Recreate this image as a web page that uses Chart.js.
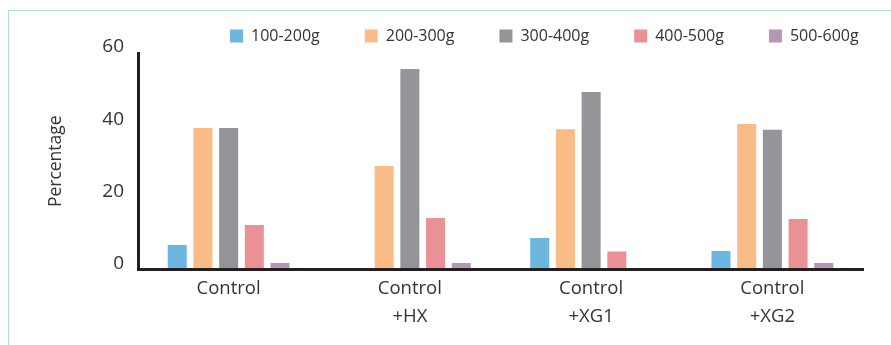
<!DOCTYPE html>
<html>
<head>
<meta charset="utf-8">
<script src="https://cdn.jsdelivr.net/npm/chart.js@4/dist/chart.umd.min.js"></script>
<style>
  html, body { margin: 0; padding: 0; background: #ffffff; }
  body { width: 891px; height: 345px; position: relative; overflow: hidden; }
  #frame { position: absolute; left: 8px; top: 10px; width: 900px; height: 400px;
           border-left: 1.5px solid #b2dcd9; border-top: 1.5px solid #b2dcd9; }
  #wrap { position: absolute; left: 0; top: 0; width: 891px; height: 345px; }
</style>
</head>
<body>
<div id="frame"></div>
<div id="wrap"><canvas id="c" width="891" height="345"></canvas></div>
<script>
const categories = [["Control"], ["Control", "+HX"], ["Control", "+XG1"], ["Control", "+XG2"]];
const seriesNames = ["100-200g", "200-300g", "300-400g", "400-500g", "500-600g"];
const s100_200 = [6.8, 0, 8.7, 5.1];
const s200_300 = [39.2, 28.7, 38.9, 40.3];
const s300_400 = [39.2, 55.6, 49.2, 38.7];
const s400_500 = [12.3, 14.3, 5.0, 14.0];
const s500_600 = [1.8, 1.8, 0, 1.8];
const yTicks = [0, 20, 40, 60];
const yTitle = "Percentage";

const colors = ["#6cb6df", "#f9bc86", "#949598", "#e99195", "#b497b7"];
const seriesValues = [s100_200, s200_300, s300_400, s400_500, s500_600];

const FONT = "'Open Sans', 'Noto Sans', sans-serif";
const TEXT = "#333333";
const AXIS = "#231f20";

const legendShift = {
  id: 'legendShift',
  afterLayout(chart) {
    const lg = chart.legend;
    if (!lg) return;
    const pad = lg.options.labels.padding;
    lg.left = 230 - pad;
    lg.right = lg.left + 1200;
    lg.top = 28 - pad;
  }
};

new Chart(document.getElementById('c'), {
  type: 'bar',
  data: {
    labels: categories,
    datasets: seriesNames.map((n, i) => ({
      label: n,
      data: seriesValues[i],
      backgroundColor: colors[i],
      borderWidth: 0,
      categoryPercentage: 0.709,
      barPercentage: 0.74
    }))
  },
  options: {
    responsive: false,
    animation: false,
    devicePixelRatio: 1,
    layout: { padding: { left: 0, right: 28, top: 0, bottom: 0 } },
    plugins: {
      tooltip: { enabled: false },
      legend: {
        display: true,
        position: 'top',
        align: 'start',
        maxHeight: 53,
        labels: {
          boxWidth: 13,
          boxHeight: 13,
          padding: 45,
          color: TEXT,
          font: { family: FONT, size: 16 }
        }
      }
    },
    scales: {
      x: {
        grid: { display: false, drawTicks: false },
        border: { display: true, color: AXIS, width: 3, z: 1 },
        ticks: {
          color: TEXT,
          padding: 4.5,
          font: { family: FONT, size: 18.5, lineHeight: 1.55 },
          maxRotation: 0
        },
        afterFit(scale) { scale.height = 75.5; }
      },
      y: {
        min: 0,
        max: 60,
        afterBuildTicks(scale) { scale.ticks = yTicks.map(v => ({ value: v })); },
        grid: { display: false, drawTicks: false },
        border: { display: true, color: AXIS, width: 3, z: 1 },
        ticks: {
          color: TEXT,
          padding: 14,
          labelOffset: -6,
          font: { family: FONT, size: 19 }
        },
        title: {
          display: true,
          text: yTitle,
          color: TEXT,
          padding: { top: 45.5, bottom: 0 },
          font: { family: FONT, size: 17.5, lineHeight: 1.2 }
        },
        afterFit(scale) { scale.width = 138; }
      }
    }
  },
  plugins: [legendShift]
});
</script>
</body>
</html>
